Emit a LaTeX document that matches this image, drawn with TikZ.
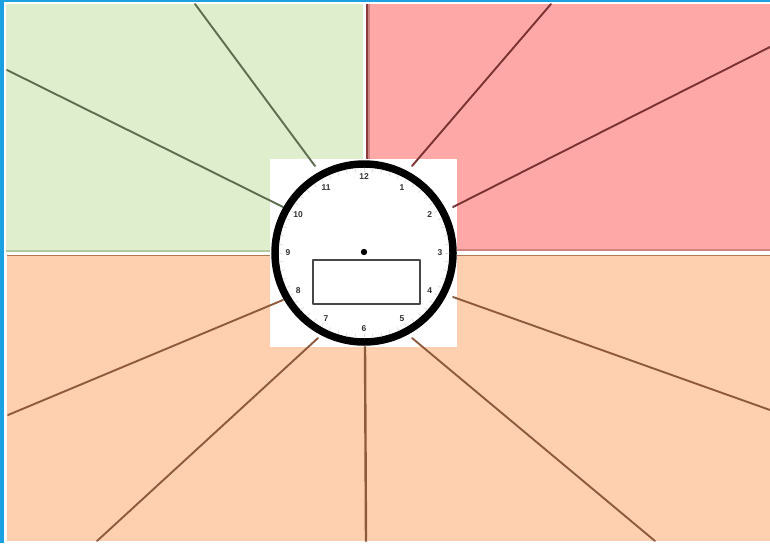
\documentclass[tikz,border=0pt]{standalone}
\usepackage{fontspec}
\setsansfont{Liberation Sans}
\definecolor{bordblue}{HTML}{1BA1E2}
\definecolor{greenq}{HTML}{DFEECD}
\definecolor{greenedge}{HTML}{B4C8A0}
\definecolor{redq}{HTML}{FFA8A8}
\definecolor{rededge}{HTML}{D08282}
\definecolor{redline}{HTML}{8C3C3C}
\definecolor{peachq}{HTML}{FFD0B0}
\definecolor{peachedge}{HTML}{B07850}
\definecolor{greenray}{HTML}{5E6E50}
\definecolor{redray}{HTML}{7A3232}
\definecolor{peachray}{HTML}{8E5A3C}
\tikzset{
  ray/.style={line width=1.9pt},
  hournum/.style={font=\sffamily\bfseries\fontsize{8.5}{9}\selectfont, inner sep=0pt, text=black!80},
}
\begin{document}
\begin{tikzpicture}[x=1pt, y=-1pt, line join=round, line cap=round]
	\def\cx{364} % centre of the clock
	\def\cy{253}
	\def\rr{89}
	\useasboundingbox (0,0) rectangle (770,543);
	% frame
	\fill[bordblue] (0,0) rectangle (4,543);
	\fill[bordblue] (0,0) rectangle (770,2.5);
	% quadrants
	\fill[greenq] (6,4) rectangle (363,252);
	\draw[greenedge, line width=1.5pt, line cap=butt] (6,251.2) -- (363,251.2);
	\fill[redq] (366,4) rectangle (770,251);
	\draw[rededge, line width=1.5pt, line cap=butt] (366,250.2) -- (770,250.2);
	\draw[rededge, line width=1.5pt, line cap=butt] (369,4) -- (369,251);
	\draw[redline, line width=1.5pt, line cap=butt] (366.8,4) -- (366.8,251);
	\fill[peachq] (7,255) rectangle (770,541);
	\draw[peachedge, line width=1.2pt, line cap=butt] (7,255.6) -- (770,255.6);
	% white square behind the clock
	\fill[white] (270,159) rectangle (457,347);
	% rays
	\draw[ray, greenray] (315,166) -- (195,4);
	\draw[ray, greenray] (283,207) -- (7,70);
	\draw[ray, redray] (412,166) -- (551,4);
	\draw[ray, redray] (453,207) -- (770,47);
	\draw[ray, peachray] (453,297) -- (770,410);
	\draw[ray, peachray] (412,338) -- (655,541);
	\draw[ray, peachray, line width=2.4pt] (365,347) -- (366,541);
	\draw[ray, peachray] (318,338) -- (97,541);
	\draw[ray, peachray] (283,300) -- (8,415);
	% clock face
	\draw[line width=7.5pt, fill=white] (\cx,\cy) circle (\rr pt);
	\foreach \m in {0,...,59}
		\draw[black!13, line width=0.8pt] ({\cx+85*sin(6*\m)},{\cy-85*cos(6*\m)}) -- ({\cx+81.5*sin(6*\m)},{\cy-81.5*cos(6*\m)});
	\foreach \n in {1,...,12}
		\node[hournum] (h\n) at ({\cx+76*sin(30*\n)},{\cy-76*cos(30*\n)}) {\n};
	\fill (\cx,252) circle (3.2pt);
	\draw[black!72, line width=2.5pt, fill=white] (313,260) rectangle (420,304);
\end{tikzpicture}
\end{document}
